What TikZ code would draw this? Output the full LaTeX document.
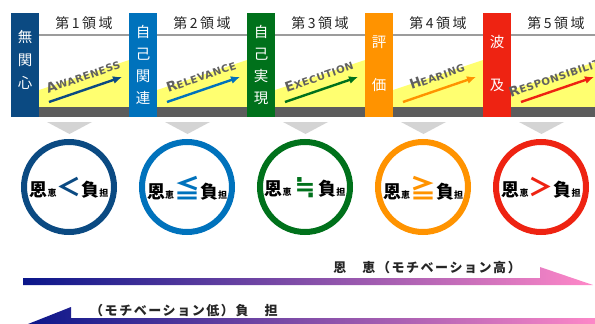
\documentclass[tikz,border=0pt]{standalone}
\usepackage{fontspec}
\usetikzlibrary{arrows.meta}
\setmainfont{Noto Sans CJK JP}
\newfontfamily\jp{Noto Sans CJK JP}
\newfontfamily\jphead[LetterSpace=18]{Noto Sans CJK JP}
\newfontfamily\jpsp[LetterSpace=12]{Noto Sans CJK JP}
\newfontfamily\labfont[LetterSpace=5]{DejaVu Sans}
\newfontfamily\symfont{DejaVu Sans}
\newcommand\capl[2]{{\fontsize{13.5}{13.5}\selectfont #1}{\fontsize{10.2}{10.2}\selectfont #2}}
\definecolor{cA}{HTML}{0B4A82}
\definecolor{cB}{HTML}{0072BC}
\definecolor{cC}{HTML}{00711B}
\definecolor{cD}{HTML}{FF9300}
\definecolor{cE}{HTML}{EE2312}
\definecolor{yel}{HTML}{FFFF70}
\definecolor{band}{HTML}{5C5C5C}
\definecolor{chev}{HTML}{D4D4D4}
\definecolor{hline}{HTML}{9C9C9C}
\definecolor{labgray}{HTML}{606060}
\definecolor{navy}{HTML}{0A168A}
\definecolor{pinkc}{HTML}{FF88C8}
\begin{document}
\begin{tikzpicture}[x=1pt,y=-1pt,
  barbox/.style={draw=none,minimum width=28pt,minimum height=104pt,inner sep=0pt,anchor=north west},
  bartext/.style={text=white,inner sep=0pt,font=\jp\fontsize{14.5}{14.5}\selectfont},
  headtext/.style={text=black!85,inner sep=0pt,font=\jphead\fontsize{14}{14}\selectfont},
  lbl/.style={text=labgray,inner sep=0pt,rotate=19,font=\labfont\bfseries},
  regarrow/.style={line width=2.4pt,-{Latex[length=9pt,width=8pt]}},
  ring/.style={circle,line width=6pt,minimum size=90pt,inner sep=0pt,fill=white},
  ctext/.style={inner sep=0pt,font=\jp\bfseries\fontsize{18}{18}\selectfont},
  bottomtext/.style={inner sep=0pt,text=black!85,font=\jpsp\bfseries\fontsize{13}{13}\selectfont}
]
\useasboundingbox (0,0) rectangle (595,324);
\clip (0,0) rectangle (595,324);

% header line
\draw[hline,line width=1.3pt] (39,35) -- (600,35);

\foreach \i/\c in {0/cA,1/cB,2/cC,3/cD,4/cE} {
  \pgfmathsetmacro\xo{118*\i}
  \fill[yel] ({39+\xo},107) -- ({39+\xo},90) -- ({129+\xo},60) -- ({129+\xo},107) -- cycle;
  \fill[chev] ({47+\xo},122) -- ({92+\xo},122) -- ({69.5+\xo},134) -- cycle;
  \coordinate (as\i) at ({49+\xo},102);
  \coordinate (ae\i) at ({122+\xo},77);
  \draw[regarrow,draw=\c] (as\i) -- (ae\i);
  \node[ring,draw=\c] (ring\i) at ({69+\xo},187) {};
}
\fill[band] (39,107) rectangle (600,117);
\foreach \i/\c in {0/cA,1/cB,2/cC,3/cD,4/cE} {
  \pgfmathsetmacro\xo{118*\i}
  \node[barbox,fill=\c] (bar\i) at ({11+\xo},13) {};
}

% vertical bar texts
\foreach \ch [count=\k] in {無,関,心}
  \node[bartext] (ba\k) at (25,{37+23*(\k-1)}) {\ch};
\foreach \ch [count=\k] in {自,己,関,連}
  \node[bartext] (bb\k) at (143,{32+22*(\k-1)}) {\ch};
\foreach \ch [count=\k] in {自,己,実,現}
  \node[bartext] (bc\k) at (261,{32+22*(\k-1)}) {\ch};
\foreach \ch [count=\k] in {評,価}
  \node[bartext] (bd\k) at (379,{42+43*(\k-1)}) {\ch};
\foreach \ch [count=\k] in {波,及}
  \node[bartext] (be\k) at (497,{42+43*(\k-1)}) {\ch};

% header texts
\node[headtext] (h1) at (84,23) {第1領域};
\node[headtext] (h2) at (202,23) {第2領域};
\node[headtext] (h3) at (320,23) {第3領域};
\node[headtext] (h4) at (438,23) {第4領域};
\node[headtext] (h5) at (556,23) {第5領域};

% slanted labels
\node[lbl] (l1) at (83,76) {\capl{A}{WARENESS}};
\node[lbl] (l2) at (201,76) {\capl{R}{ELEVANCE}};
\node[lbl] (l3) at (319,76) {\capl{E}{XECUTION}};
\node[lbl] (l4) at (437,76) {\capl{H}{EARING}};
\node[lbl] (l5) at (558,76) {\capl{R}{ESPONSIBILITY}};

% circle texts
\node[ctext] (t1) at (69,188) {恩{\fontsize{9}{9}\selectfont 恵}{\color{cA}\fontsize{25}{25}\selectfont ＜}負{\fontsize{9}{9}\selectfont 担}};
\node[ctext] (t2) at (187,188) {恩{\fontsize{9}{9}\selectfont 恵}{\color{cB}\fontsize{26}{26}\selectfont ≦}負{\fontsize{9}{9}\selectfont 担}};
\node[ctext] (t3) at (305,188) {恩{\fontsize{9}{9}\selectfont 恵}\,{\color{cC}\symfont\bfseries\fontsize{25}{25}\selectfont ≒}\,負{\fontsize{9}{9}\selectfont 担}};
\node[ctext] (t4) at (423,188) {恩{\fontsize{9}{9}\selectfont 恵}{\color{cD}\fontsize{26}{26}\selectfont ≧}負{\fontsize{9}{9}\selectfont 担}};
\node[ctext] (t5) at (541,188) {恩{\fontsize{9}{9}\selectfont 恵}{\color{cE}\fontsize{25}{25}\selectfont ＞}負{\fontsize{9}{9}\selectfont 担}};

% bottom gradient arrows
\shade[left color=navy,right color=pinkc] (23,278) -- (540,278) -- (540,267) -- (593,285) -- (23,285) -- cycle;
\shade[left color=navy,right color=pinkc] (23,326) -- (71,307) -- (71,318) -- (600,318) -- (600,326) -- cycle;
\node[bottomtext,anchor=east] (benefit) at (521,268) {恩　恵（モチベーション高）};
\node[bottomtext,anchor=west] (burden) at (90,311) {（モチベーション低）負　担};
\end{tikzpicture}
\end{document}
